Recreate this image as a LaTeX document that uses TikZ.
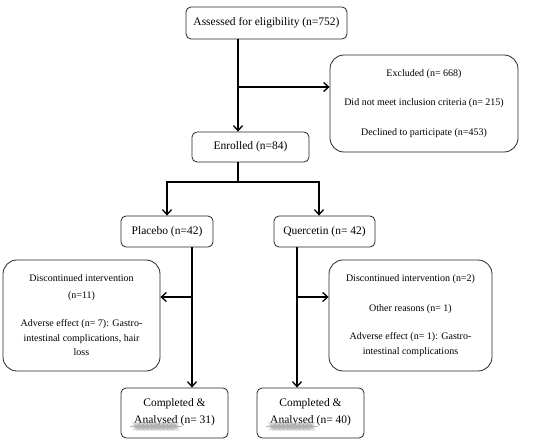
\documentclass[tikz,border=0pt]{standalone}
\usepackage{fontspec}
\setmainfont{Liberation Serif}
\usetikzlibrary{arrows.meta,decorations.pathmorphing}
\tikzset{
  box/.style={draw=black!85, line width=0.8pt, rounded corners=5pt, align=center, inner sep=0pt, font=\fontsize{11.5}{14}\selectfont},
  bigbox/.style={box, rounded corners=14pt, font=\fontsize{10}{14.5}\selectfont},
  arr/.style={-{Straight Barb[length=5pt,width=9pt]}, line width=1.3pt},
  plain/.style={line width=1.3pt},
}
\newcommand{\wavy}[1]{\tikz[baseline=(w.base)]{\node[inner sep=0pt,outer sep=0pt,draw=none,minimum size=0pt] (w) {#1};
  \draw[black!30, line width=0.3pt, decorate, decoration={snake,amplitude=0.35pt,segment length=1.6pt}] ([yshift=-2.5pt]w.base west) -- ([yshift=-2.5pt]w.base east);}}
\begin{document}
\begin{tikzpicture}[x=1pt,y=-1pt]
\useasboundingbox (0,0) rectangle (539,444);
\node[box, minimum width=161pt, minimum height=32pt] (assess) at (266.5,23) {Assessed for eligibility (n=752)};
\node[bigbox, minimum width=188pt, minimum height=97pt] (excl) at (424,103.5) {Excluded (n= 668)\\[15pt]Did not meet inclusion criteria (n= 215)\\[15pt]Declined to participate (n=453)};
\node[box, minimum width=117pt, minimum height=30pt] (enrol) at (250.5,147) {Enrolled (n=84)};
\node[box, minimum width=92pt, minimum height=31pt] (placebo) at (167,231.5) {Placebo (n=42)};
\node[box, minimum width=101pt, minimum height=31pt] (querc) at (324.5,231.5) {Quercetin (n= 42)};
\node[bigbox, minimum width=157pt, minimum height=111pt] (discL) at (81.5,315.5) {Discontinued intervention\\[2pt](n=11)\\[14pt]Adverse effect (n= 7): Gastro-\\intestinal complications, hair\\loss};
\node[bigbox, minimum width=163pt, minimum height=111pt] (discR) at (410.5,315.5) {Discontinued intervention (n=2)\\[15pt]Other reasons (n= 1)\\[14pt]Adverse effect (n= 1): Gastro-\\intestinal complications};
\node[box, minimum width=107pt, minimum height=50pt] (compL) at (174.5,413) {Completed \&\\[3pt]\wavy{Analysed} (n= 31)};
\node[box, minimum width=107pt, minimum height=50pt] (compR) at (310.5,413) {Completed \&\\[3pt]\wavy{Analysed} (n= 40)};
% connectors
\coordinate (j1) at (238,87);
\coordinate (j2) at (238,182);
\coordinate (j3) at (192,297);
\coordinate (j4) at (297,297);
\draw[arr] ([xshift=-28.5pt]assess.south) -- ([xshift=-12.5pt]enrol.north);
\draw[arr] (j1) -- (j1 -| excl.west);
\draw[plain] ([xshift=-12.5pt]enrol.south) -- (j2);
\draw[arr] (j2) -| (placebo.north);
\draw[arr] (j2) -| ([xshift=-5.5pt]querc.north);
\draw[arr] ([xshift=25pt]placebo.south) -- ([xshift=25pt]placebo.south |- compL.north);
\draw[arr] (j3) -- (j3 -| discL.east);
\draw[arr] ([xshift=-27.5pt]querc.south) -- ([xshift=-27.5pt]querc.south |- compR.north);
\draw[arr] (j4) -- (j4 -| discR.west);
\end{tikzpicture}
\end{document}
